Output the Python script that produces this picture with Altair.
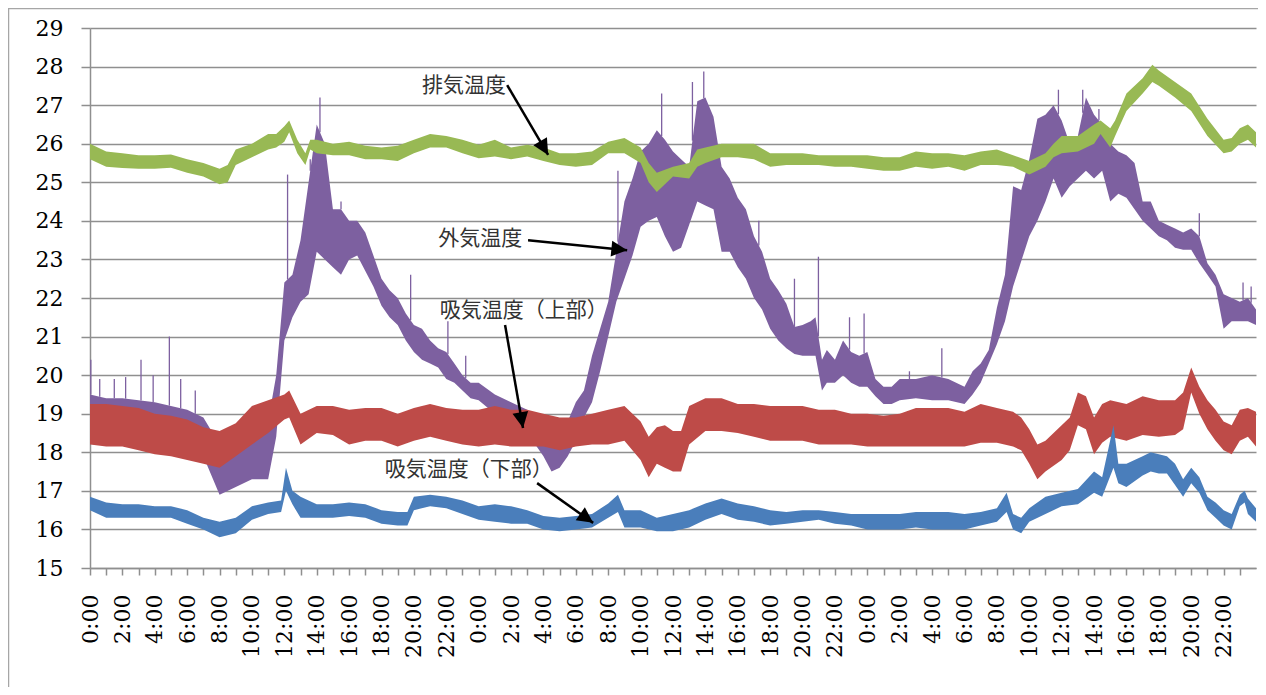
import json
import math
import numpy as np
import pandas as pd
import altair as alt

# ---- data: [hour, low, high] envelopes of each noisy series ----
exhaust = [  # 排気温度 (green)
    [0, 25.6, 26.0], [1, 25.4, 25.8], [2, 25.37, 25.75], [3, 25.35, 25.7], [4, 25.35, 25.7],
    [5, 25.38, 25.72], [6, 25.25, 25.6], [7, 25.15, 25.5], [8, 24.95, 25.35], [8.5, 25.0, 25.45],
    [9, 25.45, 25.85], [10, 25.65, 26.0], [11, 25.85, 26.25], [11.5, 25.9, 26.25], [12, 26.05, 26.45],
    [12.3, 26.3, 26.6], [12.8, 25.75, 26.1], [13.3, 25.45, 25.75], [13.6, 25.85, 26.1], [14, 25.75, 26.1],
    [15, 25.7, 26.0], [16, 25.7, 26.05], [17, 25.6, 25.95], [18, 25.6, 25.9], [19, 25.55, 25.95],
    [20, 25.75, 26.1], [21, 25.9, 26.25], [22, 25.9, 26.2], [23, 25.75, 26.1], [24, 25.62, 25.97],
    [25, 25.67, 26.1], [26, 25.6, 25.9], [27, 25.67, 25.97], [28, 25.55, 25.9], [29, 25.45, 25.75],
    [30, 25.4, 25.75], [31, 25.45, 25.8], [32, 25.75, 26.05], [33, 25.75, 26.15], [34, 25.5, 25.9],
    [34.5, 25.0, 25.5], [35, 24.75, 25.25], [36, 25.15, 25.4], [37, 25.1, 25.5], [37.5, 25.4, 25.85],
    [38, 25.5, 25.9], [39, 25.65, 26.0], [40, 25.65, 26.0], [41, 25.6, 26.0], [42, 25.4, 25.75],
    [43, 25.45, 25.75], [44, 25.45, 25.75], [45, 25.45, 25.7], [46, 25.4, 25.7], [47, 25.4, 25.7],
    [48, 25.35, 25.7], [49, 25.3, 25.65], [50, 25.3, 25.65], [51, 25.4, 25.8], [52, 25.35, 25.75],
    [53, 25.4, 25.75], [54, 25.3, 25.7], [55, 25.45, 25.8], [56, 25.45, 25.85], [57, 25.4, 25.7],
    [58, 25.2, 25.55], [59, 25.4, 25.75], [59.5, 25.65, 26.0], [60, 25.75, 26.2], [61, 25.8, 26.2],
    [62, 26.0, 26.5], [62.4, 26.25, 26.6], [63, 25.9, 26.4], [63.3, 26.2, 26.6], [64, 26.85, 27.3],
    [65, 27.3, 27.7], [65.6, 27.6, 28.05], [66, 27.5, 27.9], [67, 27.2, 27.6], [68, 26.85, 27.3],
    [69, 26.2, 26.65], [70, 25.75, 26.1], [70.5, 25.8, 26.15], [71, 26.0, 26.4], [71.5, 26.1, 26.5],
    [72, 25.9, 26.3],
]

outside = [  # 外気温度 (purple)
    [0, 18.7, 19.5], [1, 18.5, 19.4], [2, 18.5, 19.4], [3, 18.4, 19.35], [4, 18.4, 19.3],
    [5, 18.3, 19.2], [6, 18.2, 19.1], [7, 17.9, 18.9], [8, 16.9, 18.2], [9, 17.1, 18.3],
    [10, 17.3, 18.6], [11, 17.3, 18.8], [11.5, 18.4, 20.0], [12, 20.9, 22.4], [12.5, 21.5, 22.6],
    [13, 21.9, 23.5], [13.5, 22.1, 25.0], [14, 23.2, 26.5], [14.5, 23.0, 26.0], [15, 22.8, 24.3],
    [15.5, 22.6, 24.3], [16, 23.0, 24.0], [16.5, 23.1, 24.0], [17, 22.7, 23.7], [17.5, 22.3, 23.1],
    [18, 21.8, 22.5], [18.5, 21.5, 22.2], [19, 21.3, 22.0], [19.5, 20.9, 21.6], [20, 20.6, 21.3],
    [20.5, 20.4, 21.2], [21, 20.3, 20.9], [21.5, 20.2, 20.7], [22, 19.9, 20.6], [22.5, 19.8, 20.3],
    [23, 19.6, 20.0], [23.5, 19.4, 19.8], [24, 19.35, 19.8], [25, 19.0, 19.5], [26, 18.8, 19.3],
    [27, 18.5, 19.1], [28, 17.9, 18.7], [28.5, 17.5, 18.4], [29, 17.6, 18.5], [29.5, 17.9, 18.8],
    [30, 18.3, 19.3], [30.5, 18.9, 19.6], [31, 19.3, 20.5], [31.5, 20.1, 21.2], [32, 21.0, 21.9],
    [32.5, 21.9, 23.2], [33, 22.5, 24.5], [33.5, 23.1, 25.1], [34, 23.85, 25.8], [34.5, 24.0, 26.0],
    [35, 24.1, 26.35], [35.5, 23.6, 26.1], [36, 23.2, 25.8], [36.5, 23.3, 25.6], [37, 23.9, 25.4],
    [37.5, 24.5, 27.1], [38, 24.4, 27.2], [38.5, 24.3, 26.7], [39, 23.2, 25.4], [39.5, 23.2, 25.1],
    [40, 22.8, 24.6], [40.5, 22.5, 24.3], [41, 22.0, 23.6], [41.5, 21.7, 23.2], [42, 21.2, 22.5],
    [42.5, 20.9, 22.2], [43, 20.7, 21.85], [43.5, 20.55, 21.25], [44, 20.5, 21.3], [44.5, 20.5, 21.4],
    [44.8, 20.5, 21.5], [45.2, 19.6, 20.4], [45.5, 19.8, 20.65], [46, 19.8, 20.4], [46.5, 20.0, 20.9],
    [47, 19.8, 20.6], [47.5, 19.7, 20.5], [48, 19.7, 20.6], [48.5, 19.45, 19.9], [49, 19.25, 19.7],
    [49.5, 19.25, 19.7], [50, 19.35, 19.9], [51, 19.4, 19.9], [52, 19.35, 20.0], [53, 19.35, 19.9],
    [54, 19.25, 19.7], [54.5, 19.5, 20.1], [55, 19.8, 20.3], [55.5, 20.3, 20.65], [56, 20.8, 21.75],
    [56.5, 21.4, 22.6], [57, 22.3, 24.9], [57.5, 22.95, 24.8], [58, 23.6, 25.6], [58.5, 24.0, 26.65],
    [59, 24.5, 26.75], [59.5, 25.1, 27.0], [60, 24.6, 26.6], [60.5, 24.9, 26.0], [61, 25.1, 26.2],
    [61.5, 25.3, 27.2], [62, 25.1, 26.75], [62.5, 25.3, 26.5], [63, 24.5, 26.0], [63.5, 24.7, 25.8],
    [64, 24.6, 25.7], [64.5, 24.3, 25.5], [65, 24.0, 24.5], [65.5, 23.8, 24.5], [66, 23.6, 24.0],
    [66.5, 23.5, 23.9], [67, 23.3, 23.8], [67.5, 23.25, 23.7], [68, 23.25, 23.8], [68.5, 22.9, 23.6],
    [69, 22.6, 22.9], [69.5, 22.3, 22.6], [70, 21.2, 22.1], [70.5, 21.4, 22.0], [71, 21.4, 21.9],
    [71.5, 21.4, 22.0], [72, 21.3, 21.7],
]

# single spikes of 外気温度 that rise above its band: [hour, peak]
outside_spikes = [
    [0.05, 20.4], [0.6, 19.9], [1.5, 19.9], [2.2, 19.95], [3.15, 20.4], [3.9, 20.0], [4.9, 21.0],
    [5.6, 19.9], [6.5, 19.6], [12.2, 25.2], [13.6, 25.6], [14.2, 27.2], [15.5, 24.5],
    [19.8, 22.6], [22.1, 21.4], [23.2, 20.5], [32.6, 25.3], [35.3, 27.3], [37.2, 27.6], [37.9, 27.87],
    [41.3, 24.0], [43.5, 22.5], [44.98, 23.07], [46.9, 21.5], [47.8, 21.6], [50.6, 20.1], [52.6, 20.7],
    [59.8, 27.4], [61.3, 27.4], [62.3, 26.9], [68.5, 24.2], [71.2, 22.4], [71.7, 22.3],
]

intake_upper = [  # 吸気温度（上部） (red)
    [0, 18.2, 19.25], [1, 18.15, 19.25], [2, 18.15, 19.2], [3, 18.05, 19.15], [4, 17.95, 19.0],
    [5, 17.9, 18.95], [6, 17.8, 18.85], [7, 17.7, 18.65], [8, 17.6, 18.55], [9, 17.9, 18.75],
    [10, 18.2, 19.2], [11, 18.5, 19.35], [12, 18.85, 19.5], [12.3, 18.9, 19.6], [13, 18.2, 19.0],
    [14, 18.5, 19.2], [15, 18.45, 19.2], [16, 18.2, 19.1], [17, 18.3, 19.15], [18, 18.3, 19.15],
    [19, 18.15, 19.0], [20, 18.3, 19.15], [21, 18.4, 19.25], [22, 18.3, 19.15], [23, 18.2, 19.1],
    [24, 18.15, 19.1], [25, 18.2, 19.2], [26, 18.15, 19.1], [27, 18.15, 19.1], [28, 18.15, 19.0],
    [29, 18.05, 18.9], [30, 18.15, 18.9], [31, 18.2, 19.0], [32, 18.2, 19.1], [33, 18.3, 19.2],
    [34, 17.8, 18.8], [34.5, 17.35, 18.4], [35, 17.7, 18.65], [35.5, 17.6, 18.7], [36, 17.5, 18.55],
    [36.5, 17.5, 18.55], [37, 18.2, 19.2], [38, 18.55, 19.4], [39, 18.55, 19.4], [40, 18.5, 19.25],
    [41, 18.4, 19.25], [42, 18.3, 19.2], [43, 18.3, 19.2], [44, 18.3, 19.2], [45, 18.2, 19.1],
    [46, 18.2, 19.1], [47, 18.2, 19.0], [48, 18.15, 19.0], [49, 18.15, 18.95], [50, 18.15, 19.0],
    [51, 18.15, 19.15], [52, 18.15, 19.15], [53, 18.15, 19.15], [54, 18.15, 19.05], [55, 18.25, 19.25],
    [56, 18.25, 19.15], [57, 18.15, 19.05], [57.5, 18.05, 18.9], [58, 17.7, 18.6], [58.5, 17.3, 18.2],
    [59, 17.5, 18.3], [59.5, 17.65, 18.5], [60, 17.8, 18.7], [60.5, 18.05, 18.9], [61, 18.7, 19.55],
    [61.5, 18.6, 19.45], [62, 17.95, 18.9], [62.5, 18.25, 19.25], [63, 18.4, 19.35], [64, 18.3, 19.25],
    [65, 18.45, 19.45], [66, 18.4, 19.35], [67, 18.45, 19.35], [67.5, 18.6, 19.55], [68, 19.55, 20.2],
    [68.5, 19.0, 19.7], [69, 18.6, 19.35], [69.5, 18.3, 19.1], [70, 18.05, 18.8], [70.5, 17.95, 18.7],
    [71, 18.3, 19.1], [71.5, 18.4, 19.15], [72, 18.15, 19.05],
]

intake_lower = [  # 吸気温度（下部） (blue)
    [0, 16.5, 16.85], [1, 16.3, 16.7], [2, 16.3, 16.65], [3, 16.3, 16.65], [4, 16.3, 16.6],
    [5, 16.3, 16.6], [6, 16.15, 16.5], [7, 16.0, 16.3], [8, 15.8, 16.2], [9, 15.9, 16.3],
    [10, 16.25, 16.6], [11, 16.4, 16.7], [11.8, 16.45, 16.75], [12.1, 17.0, 17.6], [12.5, 16.65, 17.0],
    [13, 16.3, 16.85], [14, 16.3, 16.65], [15, 16.3, 16.65], [16, 16.35, 16.7], [17, 16.3, 16.65],
    [18, 16.15, 16.5], [19, 16.1, 16.45], [19.6, 16.1, 16.45], [20, 16.5, 16.85], [21, 16.6, 16.9],
    [22, 16.55, 16.85], [23, 16.4, 16.75], [24, 16.25, 16.6], [25, 16.2, 16.65], [26, 16.15, 16.6],
    [27, 16.15, 16.5], [28, 16.0, 16.35], [29, 15.95, 16.3], [30, 16.0, 16.35], [31, 16.05, 16.4],
    [32, 16.3, 16.67], [32.6, 16.45, 16.9], [33, 16.05, 16.5], [34, 16.05, 16.5], [35, 15.95, 16.3],
    [36, 15.95, 16.4], [37, 16.05, 16.5], [38, 16.25, 16.67], [39, 16.4, 16.8], [40, 16.25, 16.67],
    [41, 16.2, 16.6], [42, 16.1, 16.5], [43, 16.15, 16.45], [44, 16.2, 16.5], [45, 16.25, 16.5],
    [46, 16.15, 16.45], [47, 16.1, 16.4], [48, 16.0, 16.4], [49, 16.0, 16.4], [50, 16.0, 16.4],
    [51, 16.05, 16.45], [52, 16.0, 16.45], [53, 16.0, 16.45], [54, 16.0, 16.4], [55, 16.1, 16.45],
    [56, 16.2, 16.55], [56.6, 16.45, 16.95], [57, 16.0, 16.4], [57.5, 15.9, 16.3], [58, 16.2, 16.55],
    [59, 16.4, 16.85], [60, 16.6, 16.95], [61, 16.65, 17.05], [62, 16.95, 17.5], [62.5, 16.85, 17.35],
    [63.2, 17.6, 18.7], [63.5, 17.2, 17.7], [64, 17.1, 17.7], [64.5, 17.25, 17.8], [65, 17.4, 17.9],
    [65.5, 17.5, 18.0], [66, 17.45, 17.95], [66.5, 17.45, 17.9], [67, 17.15, 17.7], [67.5, 16.85, 17.3],
    [68, 17.2, 17.6], [68.5, 16.95, 17.35], [69, 16.5, 16.85], [69.5, 16.3, 16.7], [70, 16.1, 16.5],
    [70.5, 16.0, 16.4], [71, 16.6, 16.9], [71.3, 16.7, 17.0], [71.5, 16.4, 16.8], [72, 16.2, 16.55],
]

day_labels = ["0:00", "2:00", "4:00", "6:00", "8:00", "10:00",
              "12:00", "14:00", "16:00", "18:00", "20:00", "22:00"]
tick_labels = day_labels * 3
y_ticks = [15, 16, 17, 18, 19, 20, 21, 22, 23, 24, 25, 26, 27, 28, 29]

# annotations: text, text position (hour, °C), arrow start and arrow tip (hour, °C)
ann_text = ["排気温度", "外気温度", "吸気温度（上部）", "吸気温度（下部）"]
ann_tx = [20.5, 21.5, 21.6, 18.2]
ann_ty = [27.5, 23.53, 21.66, 17.54]
arr_x0 = [25.76, 27.05, 25.63, 27.61]
arr_y0 = [27.52, 23.50, 21.30, 17.20]
arr_x1 = [28.29, 33.17, 26.74, 31.07]
arr_y1 = [25.71, 23.24, 18.63, 16.17]

# ---- chart ----
W, H = 1166, 540
X_DOM, Y_DOM = [0, 72], [15, 29]
C_BLUE, C_RED, C_GREEN, C_PURPLE = "#4a7ebb", "#be4b48", "#98b954", "#7d60a0"
GRID = "#8f8f8f"

xscale = alt.Scale(domain=X_DOM, nice=False, zero=False)
yscale = alt.Scale(domain=Y_DOM, nice=False, zero=False)

label_expr = ("datum.value % 2 == 0 && datum.value < 72 ? "
              + json.dumps(tick_labels) + "[floor(datum.value / 2)] : ''")
xaxis = alt.Axis(values=list(range(72)), labelExpr=label_expr, labelAngle=270,
                 labelAlign="right", labelBaseline="middle", labelPadding=19,
                 tickSize=7, tickColor=GRID, tickWidth=1.5, domainColor=GRID,
                 domainWidth=1.5, grid=False, labelFont="DejaVu Serif",
                 labelFontSize=22, labelColor="#000000", labelOverlap=False,
                 labelBound=False, labelFlush=False, title=None)
yaxis = alt.Axis(values=y_ticks, tickSize=9, tickColor=GRID, tickWidth=1.5,
                 labelPadding=18, grid=True, gridColor=GRID, gridWidth=1.5,
                 domainColor=GRID, domainWidth=1.5, labelFont="DejaVu Serif",
                 labelFontSize=22, labelColor="#000000", labelOverlap=False,
                 labelBound=False, labelFlush=False, title=None)


def X(field):
    return alt.X(field, type="quantitative", scale=xscale, axis=xaxis)


def Y(field):
    return alt.Y(field, type="quantitative", scale=yscale, axis=yaxis)


def band(rows, color):
    df = pd.DataFrame(rows, columns=["t", "lo", "hi"])
    return alt.Chart(df).mark_area(color=color, opacity=1, interpolate="linear").encode(
        x=X("t"), y=Y("lo"), y2="hi")


out_arr = np.array(outside)
spk = pd.DataFrame(outside_spikes, columns=["t", "top"])
spk["base"] = np.interp(spk["t"], out_arr[:, 0], out_arr[:, 2])
spikes = alt.Chart(spk).mark_rule(color=C_PURPLE, strokeWidth=1.3).encode(
    x=X("t"), y=Y("base"), y2="top")

ann = pd.DataFrame({"text": ann_text, "tx": ann_tx, "ty": ann_ty,
                    "x0": arr_x0, "y0": arr_y0, "x1": arr_x1, "y1": arr_y1})
pxh = W / (X_DOM[1] - X_DOM[0])
pxc = H / (Y_DOM[1] - Y_DOM[0])
ann["ang"] = [
    math.degrees(math.atan2((x1 - x0) * pxh, (y1 - y0) * pxc)) % 360
    for x0, y0, x1, y1 in zip(arr_x0, arr_y0, arr_x1, arr_y1)
]

texts = alt.Chart(ann).mark_text(align="left", baseline="middle", font="Noto Sans CJK JP",
                                 fontSize=21, color="#333333").encode(
    x=X("tx"), y=Y("ty"), text="text:N")
arrows = alt.Chart(ann).mark_rule(color="#000000", strokeWidth=2.5).encode(
    x=X("x0"), y=Y("y0"), x2="x1", y2="y1")
heads = alt.Chart(ann).mark_point(shape="M0,0 L-0.5,1 L0.5,1 Z", filled=True, size=1000,
                                  color="#000000", opacity=1).encode(
    x=X("x1"), y=Y("y1"), angle=alt.Angle("ang:Q", scale=None))

frame = alt.Chart(pd.DataFrame({"a": [0]})).mark_rect(
    fillOpacity=0, stroke="#a6a6a6", strokeWidth=1.5, clip=False).encode(
    x=alt.value(-81.5), x2=alt.value(1400), y=alt.value(-19.5), y2=alt.value(900))

chart = alt.layer(
    band(outside, C_PURPLE), spikes,
    band(intake_upper, C_RED),
    band(intake_lower, C_BLUE),
    band(exhaust, C_GREEN),
    arrows, heads, texts, frame,
).properties(
    width=W, height=H, autosize="none",
    padding={"left": 82, "top": 20, "right": 2, "bottom": 119},
    background="#ffffff",
).configure_view(stroke=None)

chart.save("out.html", embed_options={"renderer": "svg", "actions": False})
